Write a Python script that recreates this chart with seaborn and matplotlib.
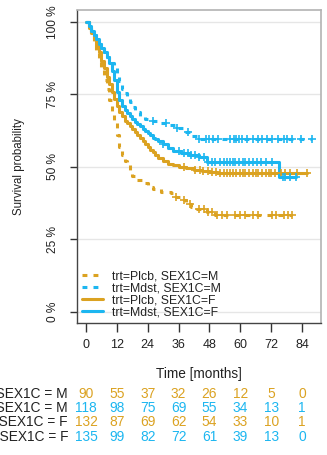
import numpy as np
import pandas as pd
import matplotlib
matplotlib.use("Agg")
import matplotlib.pyplot as plt
import seaborn as sns

# ---------------- data ----------------
groups = ["trt=Plcb, SEX1C=M", "trt=Mdst, SEX1C=M", "trt=Plcb, SEX1C=F", "trt=Mdst, SEX1C=F"]
risk_labels = ["trt=Plcb, SEX1C = M", "trt=Mdst, SEX1C = M", "trt=Plcb, SEX1C = F", "trt=Mdst, SEX1C = F"]

plcb_m_t = [0, 1, 2, 3, 4, 5, 6, 7, 8, 9, 10, 11, 12, 13, 14, 15, 16, 17, 18, 20, 22, 24, 26, 29, 33, 35, 37, 39, 41, 43, 47, 50]
plcb_m_s = [1.0, .98, .96, .93, .90, .87, .84, .80, .77, .73, .69, .65, .61, .57, .54, .52, .505, .49, .47, .455, .445, .432,
            .423, .414, .41, .395, .386, .372, .362, .355, .345, .333]
plcb_m_c = [35, 38, 40.5, 44, 46, 47.5, 49, 51, 53, 55, 58, 60, 62, 65, 67, 72.5, 74, 77, 78.5, 80]

mdst_m_t = [0, 1, 2, 3, 4, 5, 6, 7, 8, 9, 10, 11, 12, 13, 14, 15, 16, 17, 18, 19, 21, 23, 26, 29, 32, 35, 38, 41, 43]
mdst_m_s = [1.0, .985, .97, .955, .94, .925, .91, .895, .88, .87, .86, .84, .82, .795, .77, .755, .74, .725, .705, .69,
            .675, .665, .658, .652, .645, .634, .62, .607, .595]
mdst_m_c = [26, 31, 35.5, 39.5, 44, 46.5, 48, 49.5, 51.5, 56, 57.5, 58.5, 59.5, 60.5, 62.5, 65, 67, 68.5, 70.5, 72.5,
            74.5, 77, 78, 80, 83.5, 88]

plcb_f_t = [0, 1, 2, 3, 4, 5, 6, 7, 8, 9, 10, 11, 12, 13, 14, 15, 16, 17, 18, 19, 20, 21, 22, 23, 24, 25, 26, 27, 28,
            30, 32, 34, 36, 39, 42, 45, 48, 51]
plcb_f_s = [1.0, .98, .96, .94, .92, .895, .865, .84, .81, .785, .76, .735, .71, .69, .675, .66, .65, .64, .63, .62,
            .61, .60, .59, .58, .57, .56, .55, .54, .53, .52, .51, .505, .50, .495, .49, .487, .483, .48]
plcb_f_c = [38, 42.5, 44.5, 45.5, 47.5, 49, 50.5, 52, 53.5, 55, 56, 57, 58.5, 60, 61, 62, 63.5, 65, 66, 67, 68.5, 70,
            71, 72, 73.5, 76, 77.5, 79.5, 82, 86]

mdst_f_t = [0, 1, 2, 3, 4, 5, 6, 7, 8, 9, 10, 11, 12, 13, 14, 15, 16, 17, 18, 19, 20, 21, 22, 23, 24, 25, 26, 27, 28,
            30, 32, 34, 37, 40, 44, 47, 75]
mdst_f_s = [1.0, .985, .97, .955, .94, .925, .91, .895, .88, .86, .83, .80, .76, .73, .71, .695, .685, .675, .665, .655,
            .648, .64, .632, .625, .618, .61, .60, .595, .59, .58, .565, .555, .548, .542, .535, .517, .466]
mdst_f_c = [30, 36, 38, 39.5, 41, 42.5, 44, 46, 47.5, 49, 50, 52, 53.5, 55, 56, 57, 58, 59.5, 61, 62, 63.5, 65, 66.5,
            68, 70, 72.5, 76.5, 77.5, 79.5, 81.5]

risk_times = [0, 12, 24, 36, 48, 60, 72, 84]
risk_plcb_m = [90, 55, 37, 32, 26, 12, 5, 0]
risk_mdst_m = [118, 98, 75, 69, 55, 34, 13, 1]
risk_plcb_f = [132, 87, 69, 62, 54, 33, 10, 1]
risk_mdst_f = [135, 99, 82, 72, 61, 39, 13, 0]

y_ticks = [0, 0.25, 0.5, 0.75, 1.0]
y_ticklabels = ["0 %", "25 %", "50 %", "75 %", "100 %"]

# ---------------- style ----------------
ORANGE = "#DBA221"
BLUE = "#1CB6F0"
colors = [ORANGE, BLUE, ORANGE, BLUE]
dotted = (0, (1.6, 2.0))
styles = [dotted, dotted, "-", "-"]

sns.set_theme(style="white")
plt.rcParams["font.family"] = ["Liberation Sans", "DejaVu Sans"]

W, H = 327, 455
fig = plt.figure(figsize=(W / 100, H / 100), dpi=100)
ax = fig.add_axes([77 / W, 1 - 323 / H, (321 - 77) / W, (323 - 10) / H])

curves = [(plcb_m_t, plcb_m_s, plcb_m_c), (mdst_m_t, mdst_m_s, mdst_m_c),
          (plcb_f_t, plcb_f_s, plcb_f_c), (mdst_f_t, mdst_f_s, mdst_f_c)]

for (t, s, c), g, col, ls in zip(curves, groups, colors, styles):
    tt = list(t) + [max(c)]
    ss = list(s) + [s[-1]]
    df = pd.DataFrame({"time": tt, "surv": ss})
    sns.lineplot(data=df, x="time", y="surv", drawstyle="steps-post", color=col, lw=2.2,
                 estimator=None, sort=False, label=g, ax=ax)
    ax.lines[-1].set_linestyle(ls)
    ax.lines[-1].set_dash_capstyle("butt")
    idx = np.searchsorted(np.array(t), np.array(c), side="right") - 1
    cdf = pd.DataFrame({"time": c, "surv": np.array(s)[idx]})
    sns.scatterplot(data=cdf, x="time", y="surv", marker="+", s=28, color=col, linewidth=1.2, ax=ax,
                    legend=False, zorder=3)

ax.set_xlim(-3.5, 91.4)
ax.set_ylim(-0.038, 1.041)
ax.set_xticks(risk_times)
ax.set_xticklabels([str(v) for v in risk_times], fontsize=9, color="#222222")
ax.set_yticks(y_ticks)
ax.set_yticklabels(y_ticklabels, fontsize=8.6, color="#222222", rotation=90, va="center")
ax.tick_params(axis="x", direction="out", length=6.5, width=1, color="#333333", pad=5, bottom=True)
ax.tick_params(axis="y", direction="out", length=5, width=1, color="#333333", pad=8, left=True)
ax.yaxis.grid(True, color="#e6e6e6", lw=1)
ax.xaxis.grid(False)

for side in ["left", "bottom"]:
    ax.spines[side].set_color("#444444")
    ax.spines[side].set_linewidth(1.0)
for side in ["top", "right"]:
    ax.spines[side].set_color("#b3b3b3")
    ax.spines[side].set_linewidth(1.2)

ax.set_xlabel("Time [months]", fontsize=9.8, color="#222222")
ax.xaxis.set_label_coords(0.5, (323 - 367) / 313)
ax.set_ylabel("Survival probability", fontsize=8.3, color="#222222")
ax.yaxis.set_label_coords((25 - 77) / 244, 0.5)

leg = ax.legend(loc="lower left", bbox_to_anchor=(0.0, -0.002), frameon=False, fontsize=8.8,
                handlelength=1.7, handletextpad=0.8, labelspacing=0.0, borderpad=0.2, borderaxespad=0.2)
for txt in leg.get_texts():
    txt.set_color("#222222")

# risk table
rows = [risk_plcb_m, risk_mdst_m, risk_plcb_f, risk_mdst_f]
row_y = [394, 408, 422, 437]
for lab, vals, col, yp in zip(risk_labels, rows, colors, row_y):
    fig.text(68 / W, 1 - yp / H, lab, ha="right", va="center", fontsize=9.9, color="#222222")
    for tv, v in zip(risk_times, vals):
        xp = ax.transData.transform((tv, 0))[0]
        fig.text(xp / W, 1 - yp / H, str(v), ha="center", va="center", fontsize=9.9, color=col)

fig.savefig("out.png", dpi=100)
